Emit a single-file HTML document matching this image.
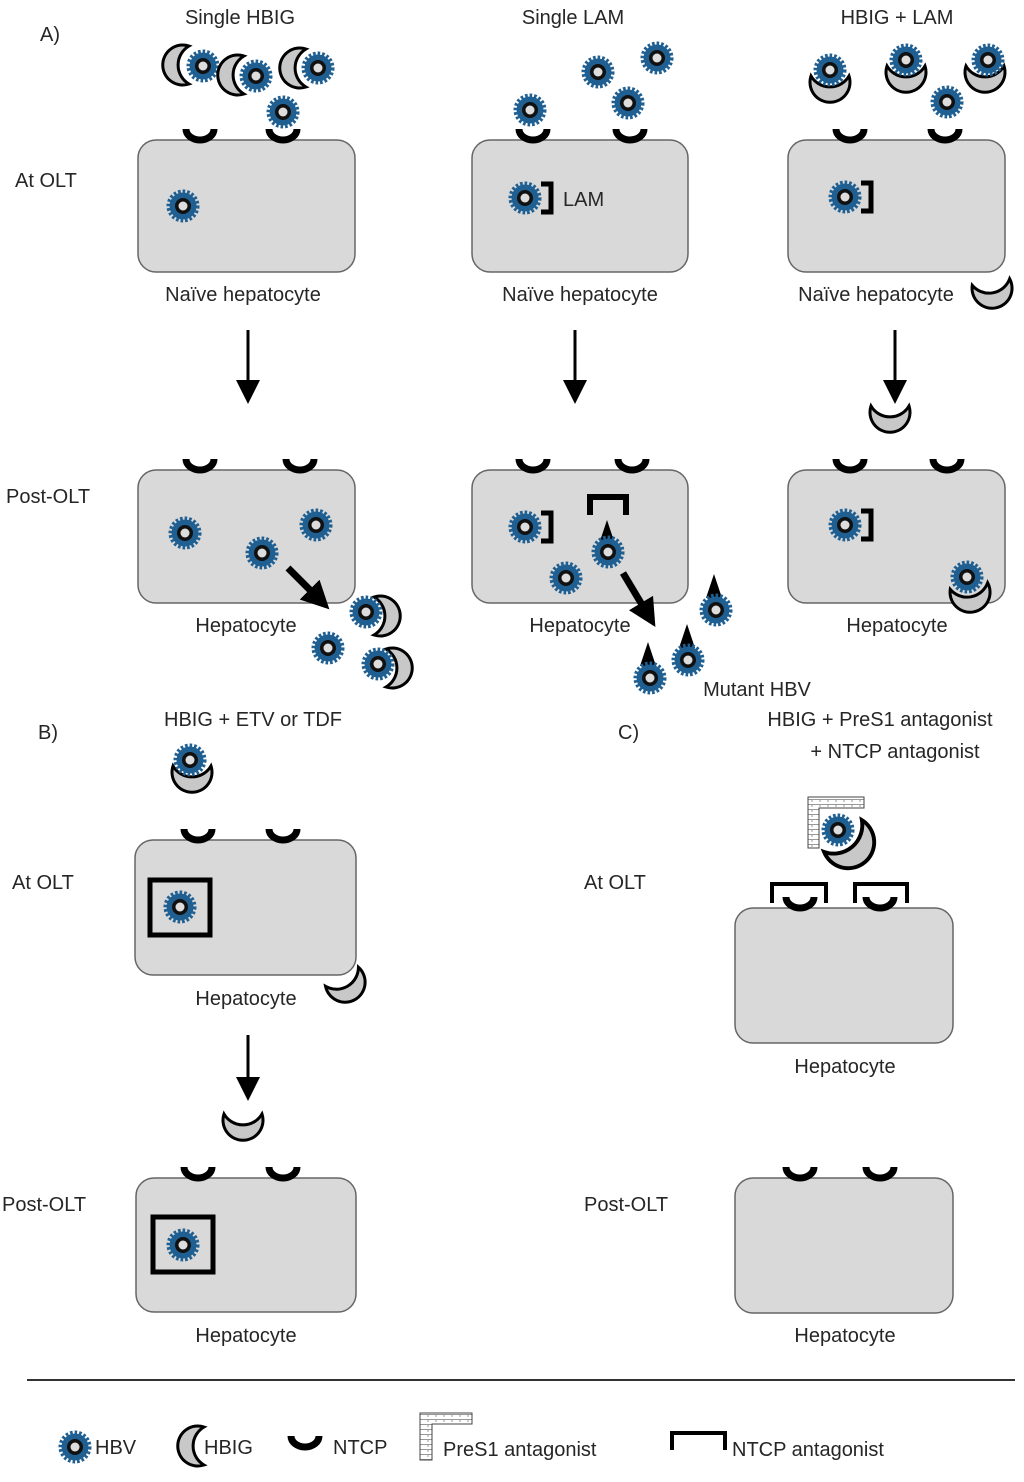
<!DOCTYPE html>
<html><head><meta charset="utf-8"><style>
html,body{margin:0;padding:0;background:#fff}
svg{display:block}
text{font-family:"Liberation Sans","DejaVu Sans",sans-serif;font-size:20px;fill:#262626}
</style></head><body>
<svg width="1024" height="1482" viewBox="0 0 1024 1482" xmlns="http://www.w3.org/2000/svg">
<defs>
<g id="hbv">
<circle r="13.5" fill="#1f5f91" stroke="#1f5f91" stroke-width="6" stroke-dasharray="2.4 1.8"/>
<circle r="8" fill="#111"/>
<circle r="4.5" fill="#ddd"/>
</g>
<g id="hbig">
<path d="M6,-19 A20,20 0 1 0 6,19 A22,22 0 0 1 6,-19Z" fill="#c8c8c8" stroke="#000" stroke-width="3"/>
</g>
<g id="cup">
<path d="M-14,-11 A14,11 0 0 0 14,-11" fill="none" stroke="#000" stroke-width="7"/>
</g>
<g id="br">
<path d="M0,-14 H10 V14 H0" fill="none" stroke="#000" stroke-width="5"/>
</g>
<g id="tri"><path d="M0,-18 L8,6 L-8,6Z" fill="#000"/></g>
<marker id="ah" markerWidth="8" markerHeight="8" refX="6" refY="4" orient="auto" markerUnits="strokeWidth"><path d="M0,0 L8,4 L0,8Z" fill="#000"/></marker>
<marker id="ah2" markerWidth="4" markerHeight="4" refX="2.5" refY="2" orient="auto" markerUnits="strokeWidth"><path d="M0,0 L4,2 L0,4Z" fill="#000"/></marker>
<pattern id="brick" width="8" height="5" patternUnits="userSpaceOnUse"><rect width="8" height="5" fill="#fff"/><path d="M0,4.5H8M4,0V2" stroke="#999" stroke-width="1"/></pattern>
</defs>

<g fill="#d9d9d9" stroke="#666" stroke-width="1.5">
<rect x="138" y="140" width="217" height="132" rx="18"/>
<rect x="472" y="140" width="216" height="132" rx="18"/>
<rect x="788" y="140" width="217" height="132" rx="18"/>
<rect x="138" y="470" width="217" height="133" rx="18"/>
<rect x="472" y="470" width="216" height="133" rx="18"/>
<rect x="788" y="470" width="217" height="133" rx="18"/>
<rect x="135" y="840" width="221" height="135" rx="18"/>
<rect x="136" y="1178" width="220" height="134" rx="18"/>
<rect x="735" y="908" width="218" height="135" rx="18"/>
<rect x="735" y="1178" width="218" height="135" rx="18"/>
</g>

<text x="40" y="41">A)</text>
<text x="240" y="24" text-anchor="middle">Single HBIG</text>
<text x="573" y="24" text-anchor="middle">Single LAM</text>
<text x="897" y="24" text-anchor="middle">HBIG + LAM</text>
<text x="15" y="187">At OLT</text>
<text x="6" y="503">Post-OLT</text>
<text x="243" y="301" text-anchor="middle">Naïve hepatocyte</text>
<text x="580" y="301" text-anchor="middle">Naïve hepatocyte</text>
<text x="876" y="301" text-anchor="middle">Naïve hepatocyte</text>
<text x="246" y="632" text-anchor="middle">Hepatocyte</text>
<text x="580" y="632" text-anchor="middle">Hepatocyte</text>
<text x="897" y="632" text-anchor="middle">Hepatocyte</text>
<text x="757" y="696" text-anchor="middle">Mutant HBV</text>
<text x="38" y="739">B)</text>
<text x="253" y="726" text-anchor="middle">HBIG + ETV or TDF</text>
<text x="618" y="739">C)</text>
<text x="880" y="726" text-anchor="middle">HBIG + PreS1 antagonist</text>
<text x="895" y="758" text-anchor="middle">+ NTCP antagonist</text>
<text x="12" y="889">At  OLT</text>
<text x="2" y="1211">Post-OLT</text>
<text x="584" y="889">At OLT</text>
<text x="584" y="1211">Post-OLT</text>
<text x="246" y="1005" text-anchor="middle">Hepatocyte</text>
<text x="246" y="1342" text-anchor="middle">Hepatocyte</text>
<text x="845" y="1073" text-anchor="middle">Hepatocyte</text>
<text x="845" y="1342" text-anchor="middle">Hepatocyte</text>
<text x="563" y="206">LAM</text>

<g stroke="#000" stroke-width="3" fill="none">
<line x1="248" y1="330" x2="248" y2="398" marker-end="url(#ah)"/>
<line x1="575" y1="330" x2="575" y2="398" marker-end="url(#ah)"/>
<line x1="895" y1="330" x2="895" y2="398" marker-end="url(#ah)"/>
<line x1="248" y1="1035" x2="248" y2="1095" marker-end="url(#ah)"/>
</g>
<g stroke="#000" stroke-width="7" fill="none">
<line x1="288" y1="568" x2="322" y2="602" marker-end="url(#ah2)"/>
<line x1="623" y1="573" x2="650" y2="618" marker-end="url(#ah2)"/>
</g>

<use href="#cup" x="200" y="140"/><use href="#cup" x="283" y="140"/>
<use href="#cup" x="533" y="140"/><use href="#cup" x="630" y="140"/>
<use href="#cup" x="850" y="140"/><use href="#cup" x="945" y="140"/>
<use href="#cup" x="200" y="470"/><use href="#cup" x="300" y="470"/>
<use href="#cup" x="533" y="470"/><use href="#cup" x="632" y="470"/>
<use href="#cup" x="850" y="470"/><use href="#cup" x="947" y="470"/>
<use href="#cup" x="198" y="840"/><use href="#cup" x="283" y="840"/>
<use href="#cup" x="198" y="1178"/><use href="#cup" x="283" y="1178"/>
<use href="#cup" x="800" y="908"/><use href="#cup" x="880" y="908"/>
<use href="#cup" x="800" y="1178"/><use href="#cup" x="880" y="1178"/>

<g fill="none" stroke="#000" stroke-width="4">
<path d="M772,903 V884 H826 V903"/>
<path d="M855,903 V884 H907 V903"/>
<path d="M590,515 V497 H626 V515" stroke-width="6"/>
</g>

<use href="#hbig" x="183" y="65"/><use href="#hbv" x="203" y="66"/>
<use href="#hbig" x="238" y="75"/><use href="#hbv" x="256" y="76"/>
<use href="#hbig" x="300" y="68"/><use href="#hbv" x="318" y="68"/>
<use href="#hbv" x="283" y="112"/>
<use href="#hbv" x="183" y="206"/>
<use href="#hbv" x="185" y="533"/><use href="#hbv" x="316" y="525"/><use href="#hbv" x="262" y="553"/>
<use href="#hbig" transform="translate(380,616) rotate(180)"/><use href="#hbv" x="366" y="612"/>
<use href="#hbv" x="328" y="648"/>
<use href="#hbig" transform="translate(392,668) rotate(180)"/><use href="#hbv" x="378" y="664"/>

<use href="#hbv" x="598" y="72"/><use href="#hbv" x="657" y="58"/>
<use href="#hbv" x="530" y="110"/><use href="#hbv" x="628" y="103"/>
<use href="#hbv" x="525" y="198"/><use href="#br" x="541" y="198"/>
<use href="#hbv" x="525" y="527"/><use href="#br" x="541" y="527"/>
<use href="#tri" x="607" y="538"/><use href="#hbv" x="608" y="552"/>
<use href="#hbv" x="566" y="578"/>
<use href="#tri" x="714" y="592"/><use href="#hbv" x="716" y="610"/>
<use href="#tri" x="687" y="642"/><use href="#hbv" x="688" y="660"/>
<use href="#tri" x="648" y="660"/><use href="#hbv" x="650" y="678"/>

<use href="#hbig" transform="translate(830,82) rotate(-90)"/><use href="#hbv" x="830" y="70"/>
<use href="#hbig" transform="translate(906,72) rotate(-90)"/><use href="#hbv" x="906" y="60"/>
<use href="#hbig" transform="translate(985,72) rotate(-90)"/><use href="#hbv" x="988" y="60"/>
<use href="#hbv" x="947" y="102"/>
<use href="#hbv" x="845" y="197"/><use href="#br" x="861" y="197"/>
<use href="#hbig" transform="translate(992,288) rotate(-100)"/>
<use href="#hbig" transform="translate(890,412) rotate(-90)"/>
<use href="#hbv" x="845" y="525"/><use href="#br" x="861" y="525"/>
<use href="#hbig" transform="translate(970,592) rotate(-100)"/><use href="#hbv" x="967" y="577"/>

<use href="#hbig" transform="translate(192,772) rotate(-90)"/><use href="#hbv" x="190" y="760"/>
<rect x="150" y="880" width="60" height="55" fill="none" stroke="#000" stroke-width="5"/>
<use href="#hbv" x="180" y="907"/>
<use href="#hbig" transform="translate(345,982) rotate(-120)"/>
<use href="#hbig" transform="translate(243,1120) rotate(-90)"/>
<rect x="153" y="1217" width="60" height="55" fill="none" stroke="#000" stroke-width="5"/>
<use href="#hbv" x="183" y="1245"/>

<use href="#hbig" transform="translate(848,842) rotate(-130) scale(1.3)"/>
<path d="M808,797 H864 V808 H819 V848 H808Z" fill="url(#brick)" stroke="#444" stroke-width="1"/>
<use href="#hbv" x="838" y="830"/>

<line x1="27" y1="1380" x2="1015" y2="1380" stroke="#333" stroke-width="2"/>
<use href="#hbv" x="75" y="1447"/><text x="95" y="1454">HBV</text>
<use href="#hbig" x="198" y="1446"/><text x="204" y="1454">HBIG</text>
<use href="#cup" x="305" y="1447"/><text x="333" y="1454">NTCP</text>
<path d="M420,1413 H472 V1424 H432 V1460 H420Z" fill="url(#brick)" stroke="#444" stroke-width="1"/>
<text x="443" y="1456">PreS1 antagonist</text>
<path d="M672,1450 V1433 H725 V1450" fill="none" stroke="#000" stroke-width="4"/>
<text x="732" y="1456">NTCP antagonist</text>
</svg>
</body></html>
